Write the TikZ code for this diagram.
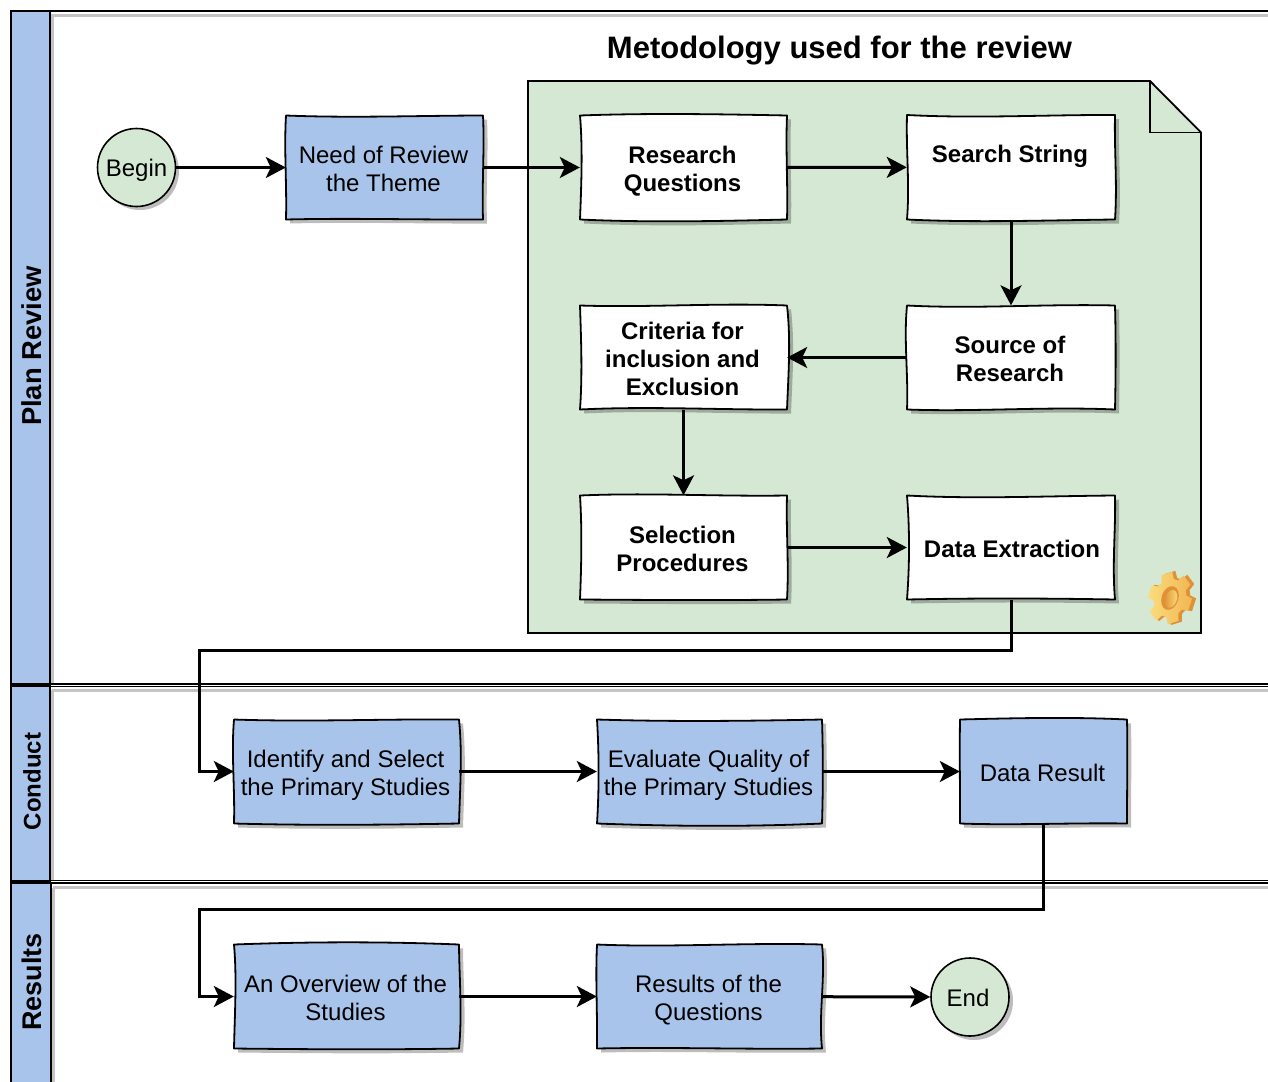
\documentclass[tikz,border=0pt]{standalone}
\usepackage{fontspec}
\setmainfont{Liberation Sans}
\usetikzlibrary{arrows.meta,calc}
\definecolor{laneblue}{HTML}{A9C4EB}
\definecolor{notegreen}{HTML}{D5E8D4}
\definecolor{lanegray}{HTML}{C4C4C4}
\definecolor{gearlite}{HTML}{FBDD7C}
\definecolor{gearmid}{HTML}{F2B554}
\definecolor{geardark}{HTML}{DF9135}
\tikzset{
  x=1pt,y=-1pt,
  conn/.style={line width=3pt,-{Stealth[length=20pt,width=21pt,inset=5pt]},line join=miter},
  lbl/.style={inner sep=0pt,font=\fontsize{24}{28}\selectfont},
  lanelbl/.style={inner sep=0pt,rotate=90},
  lanerect/.style={draw=black,line width=1.6pt,fill=laneblue},
  laneline/.style={draw=black,line width=1.6pt},
  laneshadow/.style={draw=lanegray,line width=3pt},
  skout/.style={draw=black,line width=1.8pt,line join=round},
  skshadow/.style={fill=black,opacity=.26},
  roundnode/.style={circle,draw=black,line width=1.6pt,fill=notegreen,minimum size=78pt,inner sep=0pt,font=\fontsize{24}{28}\selectfont},
  roundshadow/.style={circle,fill=black,opacity=.26,minimum size=78pt,inner sep=0pt},
}
% text block moved down by half the first kern and left by half the second
\newcommand\mlines[1]{\vbox{\kern8pt\hbox{\begin{tabular}{@{}c@{}}#1\end{tabular}\kern2pt}}}
% name, x0, y0, x1, y1, fill, font, text
\newcommand\skbox[8]{%
  \pgfmathsetmacro\wA{rand*4}\pgfmathsetmacro\wB{rand*4}%
  \pgfmathsetmacro\wC{rand*4}\pgfmathsetmacro\wD{rand*4}%
  \pgfmathsetmacro\wE{rand*4}\pgfmathsetmacro\wF{rand*4}%
  \pgfmathsetmacro\wG{rand*4}\pgfmathsetmacro\wH{rand*4}%
  \def\skp{(#2,#3) .. controls ({#2+.33*(#4-#2)},{#3+\wA}) and ({#2+.66*(#4-#2)},{#3+\wB}) .. (#4,#3)
     .. controls ({#4+\wC},{#3+.33*(#5-#3)}) and ({#4+\wD},{#3+.66*(#5-#3)}) .. (#4,#5)
     .. controls ({#2+.66*(#4-#2)},{#5+\wE}) and ({#2+.33*(#4-#2)},{#5+\wF}) .. (#2,#5)
     .. controls ({#2+\wG},{#3+.66*(#5-#3)}) and ({#2+\wH},{#3+.33*(#5-#3)}) .. cycle}%
  \begin{scope}[shift={(4,4)}]\fill[skshadow] \skp;\end{scope}%
  \path[skout,fill=#6] \skp;%
  \pgfmathsetmacro\cw{#4-#2}\pgfmathsetmacro\ch{#5-#3}%
  \node[lbl,minimum width=\cw pt,minimum height=\ch pt,font=\fontsize{24}{28}\selectfont#7] (#1) at ({(#2+#4)/2},{(#3+#5)/2}) {\mlines{#8}};%
}
\begin{document}
\begin{tikzpicture}
\pgfmathsetseed{11}
\useasboundingbox (0,0) rectangle (1268,1081);
\clip (0,0) rectangle (1268,1081);
\fill[white] (0,0) rectangle (1268,1081);
% lane shadows
\draw[laneshadow] (1280,15.5) -- (52,15.5) -- (52,684);
\draw[laneshadow] (52,690) -- (1280,690);
\draw[laneshadow] (52,690) -- (52,880);
\draw[laneshadow] (53,887.5) -- (1280,887.5);
\draw[laneshadow] (53,887.5) -- (53,1090);
% lanes
\draw[lanerect] (11,11) rectangle (50,684);
\draw[lanerect] (11,686) rectangle (50,881);
\draw[lanerect] (11,883) rectangle (51,1095);
\draw[laneline] (50,11) -- (1280,11);
\draw[laneline] (11,684) -- (1280,684);
\draw[laneline] (11,686.5) -- (1280,686.5);
\draw[laneline] (11,880.5) -- (1280,880.5);
\draw[laneline] (11,883) -- (1280,883);
\node[lanelbl,font=\fontsize{27.4}{30}\selectfont\bfseries] (planlbl) at (32,346) {Plan Review};
\node[lanelbl,font=\fontsize{24}{28}\selectfont\bfseries] (condlbl) at (32,781.5) {Conduct};
\node[lanelbl,font=\fontsize{27}{30}\selectfont\bfseries] (reslbl) at (32,982) {Results};
% title
\node[inner sep=0pt,font=\fontsize{31}{34}\selectfont\bfseries] (title) at (839.5,51) {Metodology used for the review};
% note
\draw[skout,line join=miter,fill=notegreen] (528,81) -- (1150,81) -- (1201,132.5) -- (1201,633) -- (528,633) -- cycle;
\draw[skout,line join=miter] (1150,81) -- (1150,132.5) -- (1201,132.5);
% gear
\begin{scope}[shift={(1170,598)},rotate=-18,yscale=1.02,xscale=.84]
  \begin{scope}[shift={(3.5,-1)}]
    \fill[geardark]
      (-22:20) \foreach \a in {0,60,120,180,240,300} {-- (\a-22:20) -- (\a-14:27) -- (\a+14:27) -- (\a+22:20)} -- cycle;
  \end{scope}
  \shade[left color=gearlite,right color=gearmid]
    (-22:19) \foreach \a in {0,60,120,180,240,300} {-- (\a-22:19) -- (\a-14:26) -- (\a+14:26) -- (\a+22:19)} -- cycle;
  \fill[geardark] (0,0) ellipse (10 and 12);
  \shade[left color=geardark,right color=gearlite] (1.5,0.5) ellipse (7 and 9);
\end{scope}
% nodes
\node[roundshadow] (beginsh) at (140,171) {};
\node[roundnode] (begin) at (136.5,167.5) {\vbox{\kern6pt\hbox{Begin}}};
\skbox{need}{286}{115.5}{483}{219.5}{laneblue}{}{Need of Review\\the Theme}
\skbox{rq}{580}{115.5}{787}{219.5}{white}{\bfseries}{Research\\Questions}
\skbox{ss}{907}{115}{1115}{219.5}{white}{\bfseries}{Search String\hspace{3pt}\\\mbox{}}
\skbox{cr}{580}{305.5}{787}{409.5}{white}{\bfseries}{Criteria for\\inclusion and\\Exclusion}
\skbox{so}{907}{305.5}{1115}{409.5}{white}{\bfseries}{Source of\\Research}
\skbox{se}{580}{495.5}{787}{599.5}{white}{\bfseries}{Selection\\Procedures}
\skbox{de}{907}{495.5}{1115}{599.5}{white}{\bfseries}{\hspace{4pt}Data Extraction}
\skbox{id}{234}{719.5}{459}{823.5}{laneblue}{}{Identify and Select\\the Primary Studies}
\skbox{ev}{597}{719.5}{822}{823.5}{laneblue}{}{Evaluate Quality of\\the Primary Studies}
\skbox{dr}{960}{719.5}{1127}{823.5}{laneblue}{}{Data Result}
\skbox{ov}{234}{944.5}{459}{1048.5}{laneblue}{}{An Overview of the\\Studies}
\skbox{rs}{597}{944.5}{822}{1048.5}{laneblue}{}{Results of the\\Questions}
\node[roundshadow] (endsh) at (974,1001) {};
\node[roundnode] (endn) at (970,997) {\vbox{\kern2pt\hbox{End\kern4pt}}};
% connector waypoints
\coordinate (w1) at (199,650);
\coordinate (w2) at (199,909);
% connectors
\draw[conn] (begin) -- (need);
\draw[conn] (need) -- (rq);
\draw[conn] (rq) -- (ss);
\draw[conn] (ss) -- (so);
\draw[conn] (so) -- (cr);
\draw[conn] (cr) -- (se);
\draw[conn] (se) -- (de);
\draw[conn] (de.south) |- (w1) |- (id.west);
\draw[conn] (id) -- (ev);
\draw[conn] (ev) -- (dr);
\draw[conn] (dr.south) |- (w2) |- (ov.west);
\draw[conn] (ov) -- (rs);
\draw[conn] (rs) -- (endn);
\end{tikzpicture}
\end{document}
